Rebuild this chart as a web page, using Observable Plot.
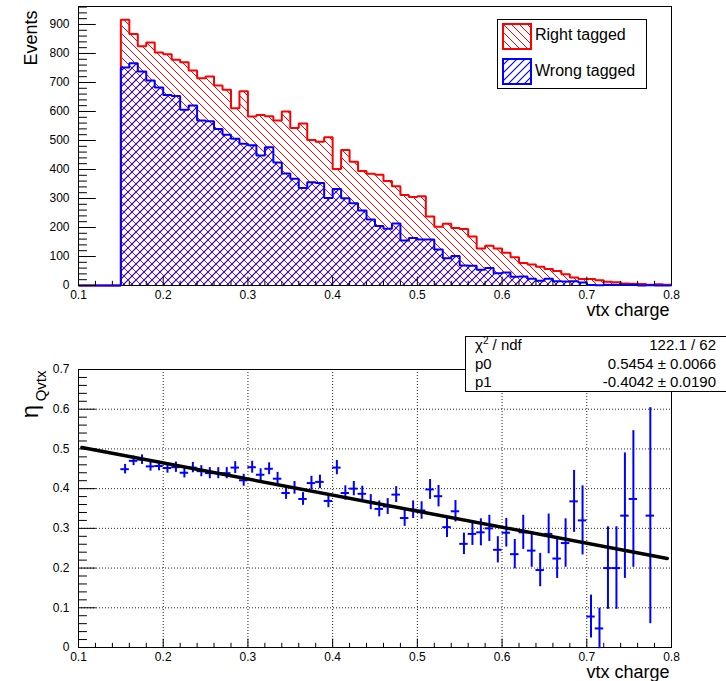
<!DOCTYPE html>
<html><head><meta charset="utf-8">
<script src="https://cdn.jsdelivr.net/npm/d3@7"></script>
<script src="https://cdn.jsdelivr.net/npm/@observablehq/plot@0.6"></script>
<style>
body{margin:0;background:#fff;overflow:hidden}
#wrap{position:relative;width:726px;height:681px;overflow:hidden;background:#fff;font-family:"Liberation Sans",Arial,Helvetica,sans-serif;color:#000}
#top,#bot{position:absolute;left:0}
#top{top:0}#bot{top:330px}
.legend{position:absolute;left:497px;top:19px;width:148px;height:68px;border:1px solid #000;background:#fff}
.legend svg{position:absolute;left:4px}
.legend .lt{position:absolute;left:37px;font-size:16px;line-height:18px}
.stats{position:absolute;left:465px;top:336px;width:270px;height:54px;border:1px solid #000;background:#fff}
.sl,.sr{position:absolute;font-size:15px;line-height:16px;white-space:nowrap}
.sl{left:475px}.sr{right:10px;text-align:right}
</style></head><body>
<svg width="0" height="0" style="position:absolute">
<defs>
<pattern id="hatchBack" patternUnits="userSpaceOnUse" width="8" height="8">
<path d="M0,0L8,8M-1,7L1,9M7,-1L9,1" stroke="#ff0000" stroke-width="1" fill="none" shape-rendering="crispEdges"/>
</pattern>
<pattern id="hatchFwd" patternUnits="userSpaceOnUse" width="8" height="8">
<path d="M0,8L8,0M-1,1L1,-1M7,9L9,7" stroke="#0000ff" stroke-width="1.15" fill="none"/>
</pattern>
</defs>
</svg>
<div id="wrap">
<div id="top"></div>
<div id="bot"></div>
<div class="legend">
<svg width="30" height="27" style="top:3px"><rect x="1" y="1" width="28" height="25" fill="url(#hatchBack)" stroke="#ff0000" stroke-width="2"/></svg>
<div class="lt" style="top:6px">Right tagged</div>
<svg width="30" height="27" style="top:38px"><rect x="1" y="1" width="28" height="25" fill="url(#hatchFwd)" stroke="#0000ff" stroke-width="2"/></svg>
<div class="lt" style="top:42px">Wrong tagged</div>
</div>
<div class="stats"></div>
<div class="sl" style="top:337px">χ<sup style="font-size:10px;vertical-align:6px;line-height:0">2</sup> / ndf</div>
<div class="sr" style="top:337px">122.1 / 62</div>
<div class="sl" style="top:356px">p0</div>
<div class="sr" style="top:356px">0.5454 ± 0.0066</div>
<div class="sl" style="top:374px">p1</div>
<div class="sr" style="top:374px">-0.4042 ± 0.0190</div>
</div>
<script>
// ---- histogram definition: 70 bins from 0.10 to 0.80
const binLow = 0.10, binWidth = 0.01;
const rightTagged = [0,0,0,0,0,
 916,867,825,838,803,797,778,770,741,715,
 721,690,675,611,670,583,588,584,569,600,
 543,559,502,496,511,402,467,427,395,385,
 382,360,342,312,305,308,238,203,213,198,
 195,169,128,137,128,113,97,78,72,65,
 57,50,39,28,22,22,18,13,11,7,
 6,5,3,4,3];
const wrongTagged = [0,0,0,0,0,
 752,766,738,707,683,657,653,606,621,569,
 566,540,520,506,489,484,448,477,424,386,
 368,336,356,353,302,333,301,284,259,228,
 205,196,214,155,164,159,159,124,94,102,
 69,68,54,60,42,45,30,31,23,16,
 23,15,14,15,10,2,1,3,3,3,
 3,0,1,0,0];

// ---- mistag fraction points
const etaX = [0.155,0.165,0.175,0.185,0.195,0.205,0.215,0.225,0.235,0.245,
 0.255,0.265,0.275,0.285,0.295,0.305,0.315,0.325,0.335,0.345,
 0.355,0.365,0.375,0.385,0.395,0.405,0.415,0.425,0.435,0.445,
 0.455,0.465,0.475,0.485,0.495,0.505,0.515,0.525,0.535,0.545,
 0.555,0.565,0.575,0.585,0.595,0.605,0.615,0.625,0.635,0.645,
 0.655,0.665,0.675,0.685,0.695,0.705,0.715,0.725,0.735,0.745,
 0.755,0.775];
const etaV = [0.449,0.470,0.473,0.456,0.457,0.452,0.454,0.440,0.453,0.444,
 0.439,0.439,0.439,0.453,0.421,0.454,0.435,0.450,0.425,0.389,
 0.402,0.374,0.414,0.417,0.369,0.453,0.389,0.400,0.387,0.366,
 0.349,0.355,0.385,0.326,0.347,0.345,0.398,0.381,0.303,0.343,
 0.261,0.286,0.290,0.300,0.246,0.289,0.235,0.290,0.244,0.195,
 0.286,0.224,0.263,0.368,0.320,0.078,0.048,0.200,0.200,0.332,
 0.374,0.332];
const etaE = [0.012,0.012,0.012,0.012,0.012,0.013,0.013,0.013,0.013,0.014,
 0.014,0.014,0.014,0.015,0.015,0.015,0.015,0.015,0.016,0.016,
 0.016,0.016,0.017,0.017,0.017,0.018,0.018,0.018,0.019,0.019,
 0.020,0.020,0.020,0.021,0.022,0.022,0.025,0.027,0.026,0.027,
 0.027,0.029,0.034,0.033,0.033,0.036,0.037,0.043,0.042,0.042,
 0.050,0.050,0.061,0.078,0.087,0.054,0.051,0.104,0.104,0.158,
 0.172,0.272];

// ---- fit result
const fitP0 = 0.5454, fitP1 = -0.4042;
const fitRange = [0.104, 0.795];

// ---- axes
const xTicks = [0.1,0.2,0.3,0.4,0.5,0.6,0.7,0.8];
const xTickLabels = ["0.1","0.2","0.3","0.4","0.5","0.6","0.7","0.8"];
const yTicksTop = [0,100,200,300,400,500,600,700,800,900];
const yTickLabelsTop = ["0","100","200","300","400","500","600","700","800","900"];
const yTicksBot = [0,0.1,0.2,0.3,0.4,0.5,0.6,0.7];
const yTickLabelsBot = ["0","0.1","0.2","0.3","0.4","0.5","0.6","0.7"];
const xMinor = d3.range(0.1, 0.8001, 0.02).filter(v => Math.abs(v*10 - Math.round(v*10)) > 1e-6);
const yMinorTop = d3.range(0, 962, 20).filter(v => v % 100 !== 0);
const yMinorBot = d3.range(0, 0.7001, 0.02).filter(v => Math.abs(v*10 - Math.round(v*10)) > 1e-6);
const gridX = [0.2,0.3,0.4,0.5,0.6,0.7];
const gridY = [0.1,0.2,0.3,0.4,0.5,0.6];

const fontFamily = '"Liberation Sans", Arial, Helvetica, sans-serif';
const W = 726, mL = 78, mR = 55;
const frameW = W - mL - mR;

function steps(vals) {
  const pts = vals.map((v, i) => ({x: binLow + i*binWidth, y: v}));
  pts.push({x: binLow + vals.length*binWidth, y: vals[vals.length-1]});
  return pts;
}
const redPts = steps(rightTagged), bluePts = steps(wrongTagged);

function axisMarks(yTicks, yLabels, yMinor, frameH) {
  return [
    Plot.tickX(xTicks, {x: d => d, insetTop: frameH - 8.4, stroke: "black"}),
    Plot.tickX(xMinor, {x: d => d, insetTop: frameH - 4.2, stroke: "black"}),
    Plot.tickY(yTicks, {y: d => d, insetRight: frameW - 17.8, stroke: "black"}),
    Plot.tickY(yMinor, {y: d => d, insetRight: frameW - 8.9, stroke: "black"}),
    Plot.text(xTicks, {x: d => d, text: (d, i) => xTickLabels[i], frameAnchor: "bottom", lineAnchor: "top", dy: 5, fontSize: 12, fill: "black"}),
    Plot.text(yTicks, {y: d => d, text: (d, i) => yLabels[i], frameAnchor: "left", textAnchor: "end", dx: -9, fontSize: 12, fill: "black"}),
    Plot.text(["vtx charge"], {frameAnchor: "bottom-right", textAnchor: "end", lineAnchor: "middle", dy: 25, dx: -2, fontSize: 18, fill: "black"})
  ];
}

const topFrameH = 279;
const topPlot = Plot.plot({
  width: W, height: 330, marginLeft: mL, marginRight: mR, marginTop: 6, marginBottom: 45,
  x: {domain: [0.1, 0.8], axis: null},
  y: {domain: [0, 962], axis: null},
  style: {fontFamily, background: "white", color: "black", overflow: "visible"},
  marks: [
    Plot.frame({stroke: "black"}),
    Plot.areaY(redPts, {x: "x", y: "y", curve: "step-after", fill: "url(#hatchBack)"}),
    Plot.line(redPts, {x: "x", y: "y", curve: "step-after", stroke: "#ff0000", strokeWidth: 2, strokeLinejoin: "miter", strokeLinecap: "butt"}),
    Plot.areaY(bluePts, {x: "x", y: "y", curve: "step-after", fill: "url(#hatchFwd)"}),
    Plot.line(bluePts, {x: "x", y: "y", curve: "step-after", stroke: "#0000ff", strokeWidth: 2, strokeLinejoin: "miter", strokeLinecap: "butt"}),
    ...axisMarks(yTicksTop, yTickLabelsTop, yMinorTop, topFrameH),
    Plot.text(["Events"], {frameAnchor: "top-left", dx: -47, dy: 4, rotate: -90, textAnchor: "end", lineAnchor: "middle", fontSize: 18, fill: "black"})
  ]
});
document.getElementById("top").appendChild(topPlot);

const pts = etaX.map((x, i) => ({x, v: etaV[i], e: etaE[i]}));
const fitPts = fitRange.map(x => ({x, y: fitP0 + fitP1 * x}));
const botFrameH = 278;
const botPlot = Plot.plot({
  width: W, height: 351, marginLeft: mL, marginRight: mR, marginTop: 39, marginBottom: 34,
  x: {domain: [0.1, 0.8], axis: null},
  y: {domain: [0, 0.7], axis: null},
  style: {fontFamily, background: "white", color: "black", overflow: "visible"},
  marks: [
    Plot.ruleX(gridX, {x: d => d, stroke: "#222", strokeDasharray: "1,2", strokeWidth: 1}),
    Plot.ruleY(gridY, {y: d => d, stroke: "#222", strokeDasharray: "1,2", strokeWidth: 1}),
    Plot.frame({stroke: "black"}),
    Plot.ruleX(pts, {x: "x", y1: d => d.v - d.e, y2: d => d.v + d.e, stroke: "#0000ff", strokeWidth: 2}),
    Plot.ruleY(pts, {y: "v", x1: d => d.x - binWidth/2, x2: d => d.x + binWidth/2, stroke: "#0000ff", strokeWidth: 2}),
    Plot.line(fitPts, {x: "x", y: "y", stroke: "black", strokeWidth: 3.5}),
    ...axisMarks(yTicksBot, yTickLabelsBot, yMinorBot, botFrameH),
    Plot.text(["η"], {frameAnchor: "top-left", dx: -48, dy: 42, rotate: -90, textAnchor: "middle", lineAnchor: "middle", fontSize: 24, fill: "black"}),
    Plot.text(["Qvtx"], {frameAnchor: "top-left", dx: -37, dy: 1, rotate: -90, textAnchor: "end", lineAnchor: "middle", fontSize: 15, fill: "black"})
  ]
});
document.getElementById("bot").appendChild(botPlot);
</script>
</body></html>
